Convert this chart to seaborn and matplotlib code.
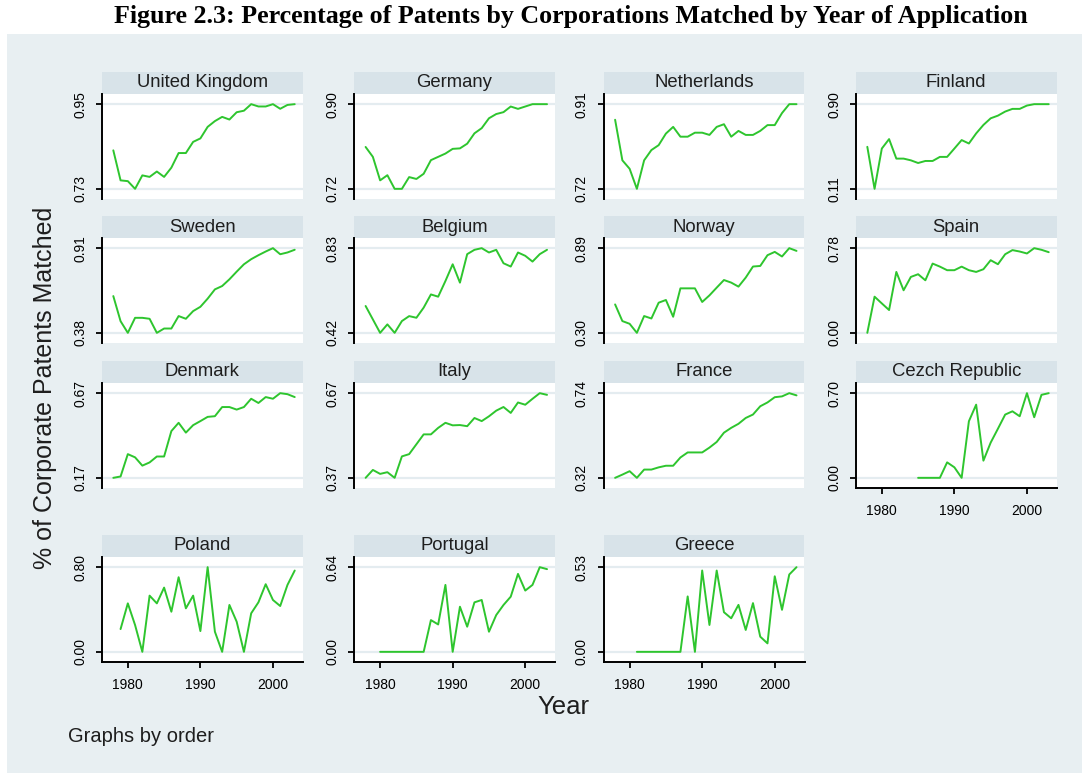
import numpy as np
import pandas as pd
import matplotlib
matplotlib.use("Agg")
import matplotlib.pyplot as plt
from matplotlib.patches import Rectangle
import seaborn as sns

# Share of corporate patents matched, by country and application year
countries = ['United Kingdom', 'Germany', 'Netherlands', 'Finland',
             'Sweden', 'Belgium', 'Norway', 'Spain',
             'Denmark', 'Italy', 'France', 'Cezch Republic',
             'Poland', 'Portugal', 'Greece']
start_years = [1978, 1978, 1978, 1978,
               1978, 1978, 1978, 1978,
               1978, 1978, 1978, 1985,
               1979, 1980, 1981]

uk = [0.830, 0.752, 0.750, 0.730, 0.765, 0.761, 0.775, 0.761, 0.785, 0.823, 0.823, 0.852, 0.861,
      0.891, 0.906, 0.917, 0.910, 0.929, 0.933, 0.950, 0.944, 0.944, 0.950, 0.938, 0.948, 0.950]
germany = [0.809, 0.788, 0.738, 0.749, 0.720, 0.720, 0.745, 0.741, 0.752, 0.781, 0.788, 0.795, 0.805,
           0.806, 0.816, 0.838, 0.849, 0.870, 0.879, 0.883, 0.895, 0.890, 0.895, 0.900, 0.900, 0.900]
netherlands = [0.875, 0.784, 0.765, 0.720, 0.784, 0.807, 0.818, 0.844, 0.859, 0.837, 0.837, 0.846, 0.846,
               0.841, 0.859, 0.865, 0.837, 0.850, 0.841, 0.841, 0.850, 0.863, 0.863, 0.890, 0.910, 0.910]
finland = [0.502, 0.110, 0.486, 0.574, 0.392, 0.392, 0.376, 0.351, 0.370, 0.370, 0.408, 0.408, 0.486,
           0.565, 0.533, 0.627, 0.706, 0.768, 0.793, 0.831, 0.856, 0.856, 0.887, 0.900, 0.900, 0.900]
sweden = [0.610, 0.453, 0.380, 0.474, 0.474, 0.468, 0.380, 0.407, 0.407, 0.485, 0.468, 0.516, 0.543,
          0.594, 0.652, 0.673, 0.715, 0.763, 0.809, 0.841, 0.866, 0.889, 0.910, 0.872, 0.883, 0.900]
belgium = [0.550, 0.485, 0.420, 0.461, 0.420, 0.477, 0.501, 0.493, 0.542, 0.606, 0.595, 0.671, 0.752,
           0.663, 0.801, 0.822, 0.830, 0.809, 0.822, 0.757, 0.741, 0.809, 0.793, 0.765, 0.801, 0.822]
norway = [0.498, 0.382, 0.363, 0.300, 0.417, 0.400, 0.510, 0.529, 0.412, 0.610, 0.610, 0.610, 0.515,
          0.561, 0.615, 0.668, 0.650, 0.622, 0.685, 0.762, 0.766, 0.841, 0.864, 0.832, 0.890, 0.871]
spain = [0.000, 0.333, 0.271, 0.210, 0.561, 0.392, 0.515, 0.540, 0.484, 0.638, 0.610, 0.577, 0.577,
         0.610, 0.577, 0.561, 0.586, 0.669, 0.632, 0.724, 0.762, 0.749, 0.731, 0.780, 0.765, 0.743]
denmark = [0.170, 0.178, 0.310, 0.291, 0.242, 0.261, 0.296, 0.296, 0.446, 0.495, 0.437, 0.481, 0.505,
           0.530, 0.534, 0.588, 0.588, 0.573, 0.588, 0.637, 0.612, 0.647, 0.637, 0.670, 0.664, 0.647]
italy = [0.370, 0.398, 0.384, 0.390, 0.370, 0.446, 0.454, 0.489, 0.524, 0.524, 0.547, 0.565, 0.556,
         0.557, 0.553, 0.582, 0.571, 0.588, 0.608, 0.621, 0.600, 0.637, 0.629, 0.650, 0.670, 0.664]
france = [0.320, 0.336, 0.353, 0.320, 0.361, 0.361, 0.372, 0.380, 0.380, 0.421, 0.446, 0.446, 0.446,
          0.470, 0.498, 0.544, 0.568, 0.588, 0.617, 0.634, 0.675, 0.694, 0.720, 0.724, 0.740, 0.729]
czech = [0.000, 0.000, 0.000, 0.000, 0.128, 0.087, 0.000, 0.468, 0.605, 0.142, 0.291, 0.406, 0.523,
         0.550, 0.509, 0.700, 0.501, 0.686, 0.700]
poland = [0.215, 0.458, 0.253, 0.000, 0.531, 0.458, 0.607, 0.379, 0.705, 0.411, 0.531, 0.196, 0.800,
          0.190, 0.000, 0.443, 0.285, 0.000, 0.364, 0.468, 0.639, 0.490, 0.433, 0.632, 0.768]
portugal = [0.000, 0.000, 0.000, 0.000, 0.000, 0.000, 0.000, 0.240, 0.207, 0.506, 0.000, 0.341,
            0.190, 0.374, 0.392, 0.152, 0.278, 0.354, 0.417, 0.589, 0.463, 0.506, 0.640, 0.625]
greece = [0.000, 0.000, 0.000, 0.000, 0.000, 0.000, 0.000, 0.347, 0.000, 0.509, 0.168, 0.509,
          0.248, 0.210, 0.294, 0.137, 0.305, 0.095, 0.053, 0.473, 0.263, 0.484, 0.530]

series = [uk, germany, netherlands, finland, sweden, belgium, norway, spain,
          denmark, italy, france, czech, poland, portugal, greece]
year_ticks = [1980, 1990, 2000]

# Long table for seaborn
df = pd.concat([
    pd.DataFrame({'order': c, 'year': np.arange(s, s + len(v)), 'share': v})
    for c, s, v in zip(countries, start_years, series)
], ignore_index=True)

# Stata s2color look
BG = '#e8eff2'
STRIP = '#d8e3e9'
GRID = '#e4ecf0'
GREEN = '#2ec52e'

sns.set_style("white")
plt.rcParams['font.family'] = ['Liberation Sans', 'DejaVu Sans']

W, H = 1087, 774
fig = plt.figure(figsize=(W / 100, H / 100), dpi=100)
fig.patch.set_facecolor('white')
fig.add_artist(Rectangle((7 / W, 1 - 773 / H), 1075 / W, 739 / H,
                         transform=fig.transFigure, facecolor=BG,
                         edgecolor='none', zorder=0))

# panel geometry in pixels
col_left = [101.7, 354, 603.5, 855.7]
row_top = [94, 238, 383, 557]
pw, ph = 201, 105
strip_h = 22

for i, name in enumerate(countries):
    r, c = divmod(i, 4)
    left = col_left[c] / W
    bottom = 1 - (row_top[r] + ph) / H
    ax = fig.add_axes([left, bottom, pw / W, ph / H])
    ax.set_facecolor('white')

    sub = df[df['order'] == name]
    sns.lineplot(data=sub, x='year', y='share', ax=ax, color=GREEN, linewidth=1.4)

    lo, hi = sub['share'].min(), sub['share'].max()
    pad = (hi - lo) * 0.12
    ax.set_ylim(lo - pad, hi + pad)
    ax.set_xlim(1976.4, 2004.1)
    ax.set_yticks([lo, hi])
    ax.set_yticklabels([f'{lo:.2f}', f'{hi:.2f}'], rotation=90, va='center', fontsize=10)
    ax.yaxis.grid(True, color=GRID, linewidth=1.6)
    ax.set_axisbelow(True)
    ax.set_xlabel('')
    ax.set_ylabel('')

    for s in ['top', 'right']:
        ax.spines[s].set_visible(False)
    ax.spines['left'].set_color('black')
    ax.spines['left'].set_linewidth(1.4)
    ax.tick_params(axis='y', direction='out', length=4.5, width=1.3, pad=6,
                   colors='black', left=True)

    if i >= 11:
        ax.spines['bottom'].set_color('black')
        ax.spines['bottom'].set_linewidth(1.4)
        ax.set_xticks(year_ticks)
        ax.set_xticklabels([str(y) for y in year_ticks], fontsize=10)
        ax.tick_params(axis='x', direction='out', length=4.5, width=1.3, pad=7,
                       colors='black', bottom=True)
    else:
        ax.spines['bottom'].set_visible(False)
        ax.set_xticks([])

    # strip header
    ax.add_patch(Rectangle((0, 1.0), 1, strip_h / ph, transform=ax.transAxes,
                           facecolor=STRIP, edgecolor='none', clip_on=False))
    ax.text(0.5, 1 + strip_h / ph / 2, name, transform=ax.transAxes,
            ha='center', va='center', fontsize=13.3, color='#1e1e1e')

fig.text(45 / W, 1 - 388 / H, '% of Corporate Patents Matched', rotation=90,
         ha='center', va='center', fontsize=18, color='#1e1e1e')
fig.text(563 / W, 1 - 707 / H, 'Year', ha='center', va='center',
         fontsize=18.5, color='#1e1e1e')
fig.text(68 / W, 1 - 737 / H, 'Graphs by order', ha='left', va='center',
         fontsize=14.5, color='#1e1e1e')
fig.text(571 / W, 1 - 17 / H,
         'Figure 2.3: Percentage of Patents by Corporations Matched by Year of Application',
         ha='center', va='center', fontsize=18.7, fontweight='bold', color='black',
         family=['Liberation Serif', 'DejaVu Serif'])

fig.savefig('out.png', dpi=100, facecolor=fig.get_facecolor())
